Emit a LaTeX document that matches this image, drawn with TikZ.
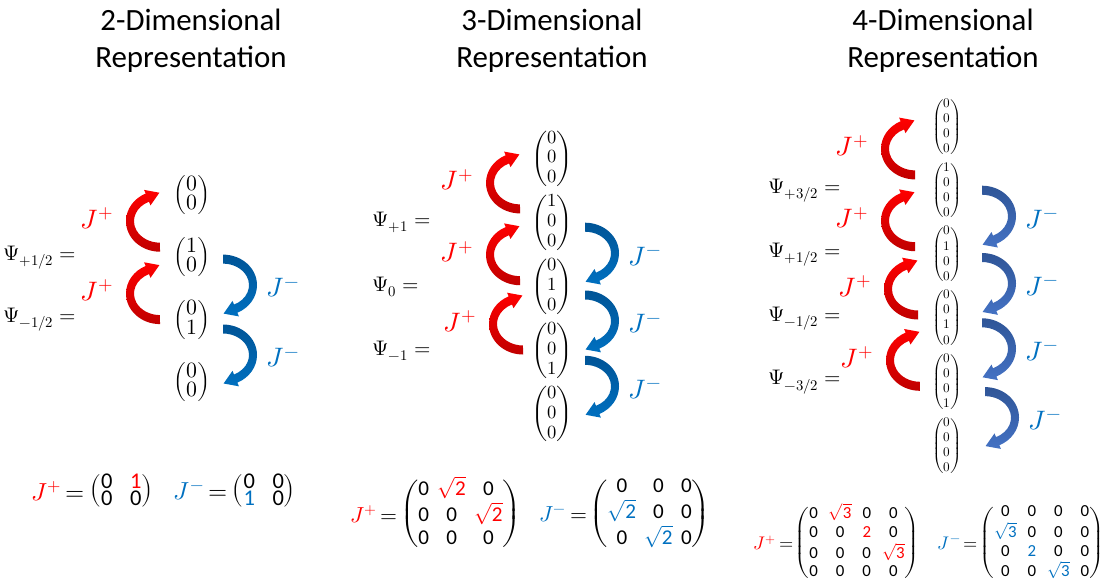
\documentclass[tikz,border=0pt]{standalone}
\usepackage{amsmath}
\usepackage{unicode-math}
\setmainfont{Carlito}
\usetikzlibrary{positioning, calc}

\definecolor{jred}{RGB}{255,0,0}
\definecolor{jredDark}{RGB}{192,0,0}
\definecolor{jblue}{RGB}{0,112,192}
\definecolor{jblueDark}{RGB}{0,84,150}
\definecolor{kblue}{RGB}{68,114,196}
\definecolor{kblueDark}{RGB}{47,85,151}

% curved block arrow: tail and head on the right, bulging left
\newcommand{\hop}[2]{%
  \path[shift={(#1)}, yscale=-1, #2] (0,-30.5)
    arc[start angle=270, end angle=115, x radius=34, y radius=30.5]
    -- (-15.9,31.3) -- (-0.6,28.5) -- (-9.5,15.8) -- (-11,19.5)
    arc[start angle=115, end angle=270, x radius=26, y radius=21.5] -- cycle;}
\newcommand{\raiseop}[1]{%
  \hop{#1}{raise}
  \node[jlab, text=jred] (#1 lab) at ([shift={(-63,-3)}]#1) {$J^+$};}
\newcommand{\lowerop}[2]{%
  \hop{#1}{#2}
  \node[jlab, text=jblue] (#1 lab) at ([shift={(60,3)}]#1) {$J^-$};}
\newcommand{\colv}[1]{$\begin{pmatrix}#1\end{pmatrix}$}
\newcommand{\zro}{\text{0}}
\newcommand{\sq}[1]{\sqrt{\text{#1}}}

\begin{document}
\begin{tikzpicture}[
  x=0.25mm, y=-0.25mm,
  title/.style = {font=\fontsize{22}{26.3}\selectfont, align=center, inner sep=0},
  vecA/.style = {inner sep=0, on grid, font=\fontsize{15.5}{18.6}\selectfont\def\arraystretch{0.62}},
  vecB/.style = {inner sep=0, on grid, font=\fontsize{13.2}{15.8}\selectfont\def\arraystretch{0.9}},
  vecC/.style = {inner sep=0, on grid, font=\fontsize{9.4}{11.3}\selectfont\def\arraystretch{0.95}},
  psi/.style = {anchor=west, inner sep=0, font=\fontsize{15}{18}\selectfont},
  jlab/.style = {inner sep=0, font=\fontsize{19}{22}\selectfont},
  raise/.style = {top color=jred, bottom color=jredDark},
  lowerA/.style = {rotate=180, top color=jblueDark, bottom color=jblue},
  lowerB/.style = {rotate=180, top color=kblueDark, bottom color=kblue},
  opA/.style = {inner sep=0, font={\fontsize{17.5}{21}\selectfont\thickmuskip=3mu}},
  opB/.style = {inner sep=0, font={\fontsize{15.5}{18.6}\selectfont\thickmuskip=3mu}},
  opC/.style = {inner sep=0, font={\fontsize{13}{15.6}\selectfont\thickmuskip=3mu}},
  matA/.style = {inner sep=0, font=\fontsize{16}{19.2}\selectfont\def\arraystretch{0.3}\setlength\arraycolsep{6.2pt}},
  matB/.style = {inner sep=0, font=\fontsize{15}{18}\selectfont\def\arraystretch{0.9}\setlength\arraycolsep{3pt}},
  matC/.style = {inner sep=0, font=\fontsize{12}{14.4}\selectfont\def\arraystretch{0.92}\setlength\arraycolsep{3.9pt}}
]
  \useasboundingbox (0,0) rectangle (1106,582);

  % Titles
  \node[title] (titleA) at (191,41) {2-Dimensional\\Representation};
  \node[title] (titleB) at (552,41) {3-Dimensional\\Representation};
  \node[title] (titleC) at (943,41) {4-Dimensional\\Representation};

  % 2-dimensional states
  \node[vecA] (a1) at (192,195) {\colv{0\\0}};
  \node[vecA, below=15.6mm of a1] (a2) {\colv{1\\0}};
  \node[vecA, below=15.6mm of a2] (a3) {\colv{0\\1}};
  \node[vecA, below=15.6mm of a3] (a4) {\colv{0\\0}};
  \coordinate (psiA) at (3,0);
  \node[psi] (sa2) at (a2 -| psiA) {$\Psi_{+1/2} =$};
  \node[psi] (sa3) at (a3 -| psiA) {$\Psi_{-1/2} =$};

  \coordinate (ra1) at ($(a1)!.5!(a2)+(-32,-5)$);
  \coordinate (ra2) at ($(a2)!.5!(a3)+(-32,5)$);
  \coordinate (la1) at ($(a2)!.5!(a3)+(31,-3.5)$);
  \coordinate (la2) at ($(a3)!.5!(a4)+(31,4)$);
  \raiseop{ra1} \raiseop{ra2}
  \lowerop{la1}{lowerA} \lowerop{la2}{lowerA}

  % 3-dimensional states
  \node[vecB] (b1) at (552,159) {\colv{0\\0\\0}};
  \node[vecB, below=15.95mm of b1] (b2) {\colv{1\\0\\0}};
  \node[vecB, below=15.95mm of b2] (b3) {\colv{0\\1\\0}};
  \node[vecB, below=15.95mm of b3] (b4) {\colv{0\\0\\1}};
  \node[vecB, below=15.95mm of b4] (b5) {\colv{0\\0\\0}};
  \coordinate (psiB) at (372,0);
  \node[psi] (sb2) at (b2 -| psiB) {$\Psi_{+1} =$};
  \node[psi] (sb3) at (b3 -| psiB) {$\Psi_{0} =$};
  \node[psi] (sb4) at (b4 -| psiB) {$\Psi_{-1} =$};

  \coordinate (rb1) at ($(b1)!.5!(b2)+(-32,-8)$);
  \coordinate (rb2) at ($(b2)!.5!(b3)+(-32,0)$);
  \coordinate (rb3) at ($(b3)!.5!(b4)+(-29,5.5)$);
  \coordinate (lb1) at ($(b2)!.5!(b3)+(33,-1.5)$);
  \coordinate (lb2) at ($(b3)!.5!(b4)+(33,2.5)$);
  \coordinate (lb3) at ($(b4)!.5!(b5)+(33,4)$);
  \raiseop{rb1} \raiseop{rb2} \raiseop{rb3}
  \lowerop{lb1}{lowerA} \lowerop{lb2}{lowerA} \lowerop{lb3}{lowerA}

  % 4-dimensional states
  \node[vecC] (c1) at (947,127) {\colv{0\\0\\0\\0}};
  \node[vecC, below=15.95mm of c1] (c2) {\colv{1\\0\\0\\0}};
  \node[vecC, below=15.95mm of c2] (c3) {\colv{0\\1\\0\\0}};
  \node[vecC, below=15.95mm of c3] (c4) {\colv{0\\0\\1\\0}};
  \node[vecC, below=15.95mm of c4] (c5) {\colv{0\\0\\0\\1}};
  \node[vecC, below=15.95mm of c5] (c6) {\colv{0\\0\\0\\0}};
  \coordinate (psiC) at (768,0);
  \node[psi] (sc2) at (c2 -| psiC) {$\Psi_{+3/2} =$};
  \node[psi] (sc3) at (c3 -| psiC) {$\Psi_{+1/2} =$};
  \node[psi] (sc4) at (c4 -| psiC) {$\Psi_{-1/2} =$};
  \node[psi] (sc5) at (c5 -| psiC) {$\Psi_{-3/2} =$};

  \coordinate (rc1) at ($(c1)!.5!(c2)+(-32,-10)$);
  \coordinate (rc2) at ($(c2)!.5!(c3)+(-32,-2)$);
  \coordinate (rc3) at ($(c3)!.5!(c4)+(-29,2.5)$);
  \coordinate (rc4) at ($(c4)!.5!(c5)+(-27,10)$);
  \coordinate (lc1) at ($(c2)!.5!(c3)+(35,-6.5)$);
  \coordinate (lc2) at ($(c3)!.5!(c4)+(35,-3)$);
  \coordinate (lc3) at ($(c4)!.5!(c5)+(35,-1.5)$);
  \coordinate (lc4) at ($(c5)!.5!(c6)+(38,3.5)$);
  \raiseop{rc1} \raiseop{rc2} \raiseop{rc3} \raiseop{rc4}
  \lowerop{lc1}{lowerB} \lowerop{lc2}{lowerB} \lowerop{lc3}{lowerB} \lowerop{lc4}{lowerB}

  % Ladder operators as matrices
  \node[opA, anchor=west] (jpA) at (31,491) {${\color{jred}J^+} =$};
  \node[matA, right=1mm of jpA] (mpA)
    {$\begin{pmatrix}\zro & \color{jred}\text{1}\\ \zro & \zro\end{pmatrix}$};
  \node[opA, right=5mm of mpA] (jmA) {${\color{jblue}J^-} =$};
  \node[matA, right=1mm of jmA] (mmA)
    {$\begin{pmatrix}\zro & \zro\\ \color{jblue}\text{1} & \zro\end{pmatrix}$};

  \node[opB, anchor=west] (jpB) at (350,514) {${\color{jred}J^+} =$};
  \node[matB, right=0.4mm of jpB] (mpB)
    {$\begin{pmatrix}\zro & \color{jred}\sq{2} & \zro\\ \zro & \zro & \color{jred}\sq{2}\\ \zro & \zro & \zro\end{pmatrix}$};
  \node[opB, right=4.5mm of mpB] (jmB) {${\color{jblue}J^-} =$};
  \node[matB, right=0.4mm of jmB] (mmB)
    {$\begin{pmatrix}\zro & \zro & \zro\\ \color{jblue}\sq{2} & \zro & \zro\\ \zro & \color{jblue}\sq{2} & \zro\end{pmatrix}$};

  \node[opC, anchor=west] (jpC) at (753,543) {${\color{jred}J^+} =$};
  \node[matC, right=0.2mm of jpC] (mpC)
    {$\begin{pmatrix}\zro & \color{jred}\sq{3} & \zro & \zro\\ \zro & \zro & \color{jred}\text{2} & \zro\\ \zro & \zro & \zro & \color{jred}\sq{3}\\ \zro & \zro & \zro & \zro\end{pmatrix}$};
  \node[opC, right=4.5mm of mpC] (jmC) {${\color{jblue}J^-} =$};
  \node[matC, right=0.2mm of jmC] (mmC)
    {$\begin{pmatrix}\zro & \zro & \zro & \zro\\ \color{jblue}\sq{3} & \zro & \zro & \zro\\ \zro & \color{jblue}\text{2} & \zro & \zro\\ \zro & \zro & \color{jblue}\sq{3} & \zro\end{pmatrix}$};
\end{tikzpicture}
\end{document}
